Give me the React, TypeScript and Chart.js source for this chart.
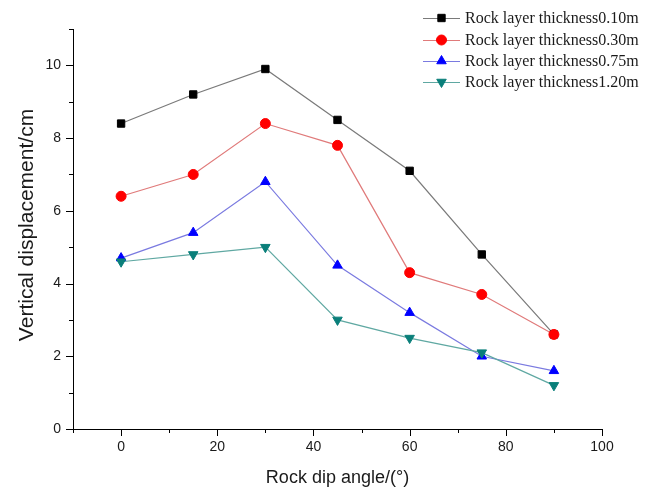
import React, { useEffect, useRef } from "react";
import { Chart, registerables } from "chart.js";
import { drawPoint } from "chart.js/helpers";

Chart.register(...registerables);

const angles = [0, 15, 30, 45, 60, 75, 90];
const seriesLabels = [
  "Rock layer thickness0.10m",
  "Rock layer thickness0.30m",
  "Rock layer thickness0.75m",
  "Rock layer thickness1.20m",
];
const thick010 = [8.4, 9.2, 9.9, 8.5, 7.1, 4.8, 2.6];
const thick030 = [6.4, 7.0, 8.4, 7.8, 4.3, 3.7, 2.6];
const thick075 = [4.7, 5.4, 6.8, 4.5, 3.2, 2.0, 1.6];
const thick120 = [4.6, 4.8, 5.0, 3.0, 2.5, 2.1, 1.2];
const xTickLabels = [0, 20, 40, 60, 80, 100];
const yTickLabels = [0, 2, 4, 6, 8, 10];

const xTitle = "Rock dip angle/(°)";
const yTitle = "Vertical displacement/cm";

const markerColors = ["#000000", "#ff0000", "#0000ff", "#0a7f7a"];
const lineColors = ["#7a7a7a", "#e07a7a", "#7a7ae0", "#5fa8a2"];
const pointStyles = ["rect", "circle", "triangle", "triangle"];
const pointRotations = [0, 0, 0, 180];
const pointRadii = [5.2, 5, 5.5, 5.5];

const tickPlugin = {
  id: "customTicks",
  afterDraw(chart: any) {
    const ctx = chart.ctx;
    const xs = chart.scales.x;
    const ys = chart.scales.y;
    ctx.save();
    ctx.strokeStyle = "#000";
    ctx.lineWidth = 1;
    ctx.beginPath();
    xs.ticks.forEach((t: any) => {
      const px = Math.round(xs.getPixelForValue(t.value)) + 0.5;
      const len = xTickLabels.includes(t.value) ? 7 : 4;
      ctx.moveTo(px, xs.top);
      ctx.lineTo(px, xs.top + len);
    });
    ys.ticks.forEach((t: any) => {
      const py = Math.round(ys.getPixelForValue(t.value)) + 0.5;
      const len = yTickLabels.includes(t.value) ? 7 : 4;
      ctx.moveTo(ys.right, py);
      ctx.lineTo(ys.right - len, py);
    });
    ctx.stroke();

    // axis titles
    const area = chart.chartArea;
    ctx.fillStyle = "#1a1a1a";
    ctx.textAlign = "center";
    ctx.textBaseline = "middle";
    ctx.font = "18px 'Liberation Sans', Arial, sans-serif";
    ctx.fillText(xTitle, (area.left + area.right) / 2, 478);
    ctx.save();
    ctx.translate(27, (area.top + area.bottom) / 2 - 4);
    ctx.rotate(-Math.PI / 2);
    ctx.font = "21px 'Liberation Sans', Arial, sans-serif";
    ctx.fillText(yTitle, 0, 0);
    ctx.restore();

    // legend
    const x0 = 423;
    const x1 = 460;
    const tx = 465;
    const rows = [18, 40, 61, 82];
    ctx.font = "16px 'Liberation Serif', 'Times New Roman', serif";
    ctx.textAlign = "left";
    ctx.textBaseline = "middle";
    chart.data.datasets.forEach((ds: any, i: number) => {
      const y = rows[i];
      ctx.strokeStyle = lineColors[i];
      ctx.lineWidth = 1;
      ctx.beginPath();
      ctx.moveTo(x0, y + 0.5);
      ctx.lineTo(x1, y + 0.5);
      ctx.stroke();
      ctx.fillStyle = markerColors[i];
      ctx.strokeStyle = markerColors[i];
      drawPoint(
        ctx,
        {
          pointStyle: pointStyles[i],
          radius: pointRadii[i],
          rotation: pointRotations[i],
          borderWidth: 1,
        } as any,
        (x0 + x1) / 2,
        y
      );
      ctx.fillStyle = "#1a1a1a";
      ctx.fillText(ds.label, tx, y + 1);
    });
    ctx.restore();
  },
};

export default function App() {
  const ref = useRef<HTMLCanvasElement | null>(null);
  useEffect(() => {
    document.body.style.margin = "0";
    if (!ref.current) return;
    const all = [thick010, thick030, thick075, thick120];
    const datasets = all.map((vals, i) => ({
      label: seriesLabels[i],
      data: angles.map((a, j) => ({ x: a, y: vals[j] })),
      borderColor: lineColors[i],
      backgroundColor: markerColors[i],
      pointBackgroundColor: markerColors[i],
      pointBorderColor: markerColors[i],
      pointStyle: pointStyles[i],
      pointRotation: pointRotations[i],
      pointRadius: pointRadii[i],
      pointBorderWidth: 1,
      borderWidth: 1.2,
      tension: 0,
      order: 4 - i,
    }));
    const chart = new Chart(ref.current, {
      type: "line",
      data: { datasets },
      options: {
        animation: false,
        responsive: false,
        layout: { padding: { left: 0, top: 29, right: 58, bottom: 0 } },
        plugins: {
          legend: { display: false },
          tooltip: { enabled: false },
        },
        scales: {
          x: {
            type: "linear",
            min: -10,
            max: 100,
            afterFit: (s: any) => {
              s.height = 61;
            },
            ticks: {
              stepSize: 10,
              padding: 10,
              color: "#1a1a1a",
              font: { family: "'Liberation Sans', Arial, sans-serif", size: 14 },
              callback: (v: any) => (xTickLabels.includes(v) ? String(v) : ""),
              maxRotation: 0,
              autoSkip: false,
            },
            grid: { display: false, drawTicks: false },
            border: { display: true, color: "#000", width: 1 },
          },
          y: {
            type: "linear",
            min: 0,
            max: 11,
            afterFit: (s: any) => {
              s.width = 73;
            },
            ticks: {
              stepSize: 1,
              padding: 12,
              color: "#1a1a1a",
              font: { family: "'Liberation Sans', Arial, sans-serif", size: 14 },
              callback: (v: any) => (yTickLabels.includes(v) ? String(v) : ""),
              autoSkip: false,
            },
            grid: { display: false, drawTicks: false },
            border: { display: true, color: "#000", width: 1 },
          },
        },
      },
      plugins: [tickPlugin],
    });
    return () => chart.destroy();
  }, []);
  return <canvas ref={ref} width={660} height={490} style={{ display: "block" }} />;
}
